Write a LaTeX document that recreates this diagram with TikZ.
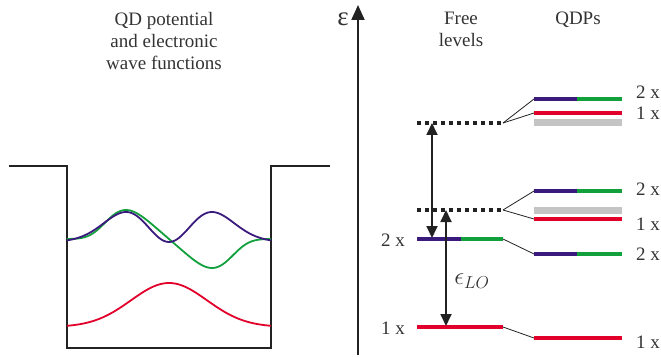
\documentclass[tikz,border=0pt]{standalone}
\usepackage{fontspec}
\setmainfont{Liberation Serif}
\usetikzlibrary{arrows.meta}
\definecolor{cpur}{HTML}{3B1A7E}
\definecolor{cgrn}{HTML}{12A03C}
\definecolor{cred}{HTML}{E2002B}
\definecolor{cgry}{HTML}{C4C4C4}
\definecolor{ctxt}{HTML}{333333}
\definecolor{cline}{HTML}{222222}
\begin{document}
\begin{tikzpicture}[x=1pt,y=-1pt,
  lbl/.style={font=\fontsize{19}{22}\selectfont, text=ctxt, inner sep=0pt},
  well/.style={line width=2pt, draw=cline},
  wave/.style={line width=1.8pt, smooth, samples=120},
  lev/.style={line width=4pt},
  graylev/.style={line width=7pt, draw=cgry},
  dotlev/.style={line width=3.5pt, draw=cline, dash pattern=on 4pt off 4pt},
  conn/.style={line width=0.8pt, draw=cline},
  dblarr/.style={line width=1.8pt, draw=cline, {Triangle[length=12pt,width=11pt]}-{Triangle[length=12pt,width=11pt]}},
]
\useasboundingbox (0,0) rectangle (661,358);

% ---- left: potential well ----
\node[lbl, align=center] (title) at (164,41) {QD potential\\and electronic\\wave functions};
\draw[well] (9,166) -- (67,166) -- (67,348) -- (271,348) -- (271,166) -- (330,166);

\draw[wave, cred] plot[domain=67:271] (\x, {327-44*exp(-(((\x-169)/38)^2)/2)});
\draw[wave, cgrn] plot[domain=67:271] (\x, {239+29*((\x-169)/43)*exp((1-((\x-169)/43)^4)/4)});
\draw[wave, cpur] plot[domain=67:271] (\x, {242-30*(((\x-169)/43)^2)*exp(1-((\x-169)/43)^2)});

% ---- energy axis ----
\coordinate (ax0) at (358,355);
\coordinate (ax1) at (358,5);
\draw[line width=2pt, draw=cline, -{Triangle[length=15pt,width=13pt]}] (ax0) -- (ax1);
\node[font=\fontsize{27}{27}\selectfont, text=ctxt, inner sep=0pt] (eps) at (343,19) {ε};

\node[lbl, align=center] (free) at (461,29) {Free\\levels};
\node[lbl, anchor=base] (qdps) at (578,25) {QDPs};

% ---- free levels ----
\coordinate (F4l) at (417,123); \coordinate (F4r) at (503,123);
\coordinate (F3l) at (417,210); \coordinate (F3r) at (503,210);
\coordinate (F2l) at (417,239); \coordinate (F2m) at (461,239); \coordinate (F2r) at (503,239);
\coordinate (F1l) at (417,327); \coordinate (F1r) at (503,327);
\draw[dotlev] (F4l) -- (F4r);
\draw[dotlev] (F3l) -- (F3r);
\draw[lev, cpur] (F2l) -- (F2m);
\draw[lev, cgrn] (F2m) -- (F2r);
\draw[lev, cred] (F1l) -- (F1r);
\node[lbl, anchor=east] (l2x) at (405,240) {2 x};
\node[lbl, anchor=east] (l1x) at (405,328) {1 x};

% ---- QDP levels ----
% top group
\coordinate (Aal) at (534,99); \coordinate (Aam) at (577,99); \coordinate (Aar) at (622,99);
\coordinate (Abl) at (534,113); \coordinate (Abr) at (622,113);
\coordinate (Acl) at (534,123); \coordinate (Acr) at (622,123);
\draw[graylev] (Acl) -- (Acr);
\draw[lev, cpur] (Aal) -- (Aam);
\draw[lev, cgrn] (Aam) -- (Aar);
\draw[lev, cred] (Abl) -- (Abr);
\node[lbl, anchor=west] (ra2) at (636,92) {2 x};
\node[lbl, anchor=west] (ra1) at (636,113) {1 x};
% middle group
\coordinate (Bal) at (534,191); \coordinate (Bam) at (577,191); \coordinate (Bar) at (622,191);
\coordinate (Bcl) at (534,211); \coordinate (Bcr) at (622,211);
\coordinate (Bbl) at (534,219); \coordinate (Bbr) at (622,219);
\draw[graylev] (Bcl) -- (Bcr);
\draw[lev, cpur] (Bal) -- (Bam);
\draw[lev, cgrn] (Bam) -- (Bar);
\draw[lev, cred] (Bbl) -- (Bbr);
\node[lbl, anchor=west] (rb2) at (636,189) {2 x};
\node[lbl, anchor=west] (rb1) at (636,224) {1 x};
% lower
\coordinate (Cl) at (534,254); \coordinate (Cm) at (577,254); \coordinate (Cr) at (622,254);
\draw[lev, cpur] (Cl) -- (Cm);
\draw[lev, cgrn] (Cm) -- (Cr);
\node[lbl, anchor=west] (rc2) at (636,254) {2 x};
% bottom
\coordinate (Dl) at (534,338); \coordinate (Dr) at (622,338);
\draw[lev, cred] (Dl) -- (Dr);
\node[lbl, anchor=west] (rd1) at (636,342) {1 x};

% ---- connectors ----
\draw[conn] (F4r) -- (Aal);
\draw[conn] (F4r) -- (Abl);
\draw[conn] (F3r) -- (Bal);
\draw[conn] (F3r) -- (Bbl);
\draw[conn] (F2r) -- (Cl);
\draw[conn] (F1r) -- (Dl);

% ---- arrows ----
\coordinate (a1t) at (432,123); \coordinate (a1b) at (432,238);
\coordinate (a2t) at (446,210); \coordinate (a2b) at (446,326);
\draw[dblarr] (a1t) -- (a1b);
\draw[dblarr] (a2t) -- (a2b);
\node[font=\fontsize{27}{27}\selectfont, text=ctxt, inner sep=0pt] (elo) at (472,281) {$\epsilon_{LO}$};
\end{tikzpicture}
\end{document}
